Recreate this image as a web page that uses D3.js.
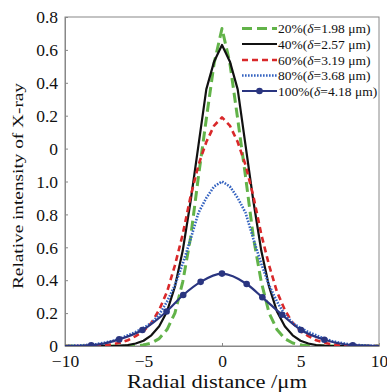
<!DOCTYPE html>
<html><head><meta charset="utf-8">
<script src="https://cdn.jsdelivr.net/npm/d3@7"></script>
<style>body{margin:0;background:#fff}svg{display:block}</style>
</head><body>
<svg id="chart" width="387" height="392"></svg>
<script>
// ---- data ----
const xGrid = [-10,-9,-8.5,-8,-7.5,-7,-6.5,-6,-5.5,-5,-4.5,-4,-3.5,-3,-2.5,-2,-1.5,-1,-0.5,0,0.5,1,1.5,2,2.5,3,3.5,4,4.5,5,5.5,6,6.5,7,7.5,8,8.5,9,10];
const green20 = [0,0,0,0,0,0,0,0,0.002,0.006,0.018,0.045,0.10,0.20,0.39,0.66,1.03,1.38,1.72,1.93,1.72,1.38,1.03,0.66,0.39,0.20,0.10,0.045,0.018,0.006,0.002,0,0,0,0,0,0,0,0];
const black40 = [0,0,0,0,0,0,0.002,0.006,0.015,0.032,0.065,0.12,0.21,0.36,0.58,0.88,1.22,1.56,1.73,1.83,1.73,1.56,1.22,0.88,0.58,0.36,0.21,0.12,0.065,0.032,0.015,0.006,0.002,0,0,0,0,0,0];
const red60 = [0,0,0.001,0.002,0.005,0.01,0.02,0.035,0.06,0.09,0.14,0.22,0.33,0.49,0.68,0.91,1.10,1.24,1.34,1.39,1.34,1.24,1.10,0.91,0.68,0.49,0.33,0.22,0.14,0.09,0.06,0.035,0.02,0.01,0.005,0.002,0.001,0,0];
const blue80 = [0,0.004,0.007,0.012,0.02,0.03,0.045,0.065,0.085,0.11,0.14,0.19,0.27,0.37,0.50,0.65,0.81,0.90,0.97,1.0,0.97,0.90,0.81,0.65,0.50,0.37,0.27,0.19,0.14,0.11,0.085,0.065,0.045,0.03,0.02,0.012,0.007,0.004,0];
const navyX = [-10,-8.33,-6.55,-5.07,-3.53,-2.47,-1.36,0,1.57,2.57,3.82,5.03,6.52,8.33,10];
const navy100 = [0,0.004,0.04,0.097,0.21,0.31,0.39,0.44,0.377,0.296,0.19,0.097,0.038,0.005,0];
const legendLabels = [["20%(","1.98 μm)"],["40%(","2.57 μm)"],["60%(","3.19 μm)"],["80%(","3.68 μm)"],["100%(","4.18 μm)"]];
const xTicks = [-10,-5,0,5,10];
const xTickLabels = ["−10","−5","0","5","10"];
const yTicks = [0,0.2,0.4,0.6,0.8,1.0,1.2,1.4,1.6,1.8,2.0];
const yTickLabels = ["0","0.2","0.4","0.6","0.8","1.0","0","0.2","0.4","0.6","0.8"];

// ---- layout ----
const L = 65, R = 379, T = 17, B = 346;
const svg = d3.select("#chart");
const x = d3.scaleLinear().domain([-10,10]).range([L,R]);
const y = d3.scaleLinear().domain([0,2]).range([B,T]);
const font = "'Liberation Serif','DejaVu Serif',serif";
const axisColor = "#888";

svg.append("defs").append("clipPath").attr("id","clip")
  .append("rect").attr("x",L).attr("y",T).attr("width",R-L).attr("height",B-T);

// frame
svg.append("rect").attr("x",L).attr("y",T).attr("width",R-L).attr("height",B-T)
  .attr("fill","none").attr("stroke",axisColor).attr("stroke-width",1);

// axes
const xAxis = d3.axisBottom(x).tickValues(xTicks).tickSizeInner(-3).tickSizeOuter(0)
  .tickPadding(10).tickFormat((d,i)=>xTickLabels[i]);
const gx = svg.append("g").attr("transform",`translate(0,${B})`).call(xAxis);
const yAxis = d3.axisLeft(y).tickValues(yTicks).tickSizeInner(-3).tickSizeOuter(0)
  .tickPadding(7).tickFormat((d,i)=>yTickLabels[i]);
const gy = svg.append("g").attr("transform",`translate(${L},0)`).call(yAxis);
[gx,gy].forEach(g=>{
  g.select(".domain").attr("stroke",axisColor);
  g.selectAll(".tick line").attr("stroke",axisColor);
  g.selectAll(".tick text").attr("font-family",font).attr("font-size",17.5).attr("fill","#111");
});
gx.selectAll(".tick text").attr("dy","0.64em");
gy.selectAll(".tick text").attr("dy","0.33em");

// titles
svg.append("text").attr("x",217).attr("y",388).attr("text-anchor","middle")
  .attr("font-family",font).attr("font-size",19).attr("fill","#111")
  .attr("textLength",180).attr("lengthAdjust","spacingAndGlyphs").text("Radial distance /μm");
svg.append("text").attr("transform",`translate(23,186) rotate(-90)`).attr("text-anchor","middle")
  .attr("font-family",font).attr("font-size",15.5).attr("fill","#111")
  .attr("textLength",206).attr("lengthAdjust","spacingAndGlyphs").text("Relative intensity of X-ray");

// series
const series = [
  {xs:xGrid, vs:green20, color:"#62b349", width:3, dash:"10,5"},
  {xs:xGrid, vs:black40, color:"#111111", width:2.2, dash:null},
  {xs:xGrid, vs:red60, color:"#d9282a", width:2.6, dash:"6,4"},
  {xs:xGrid, vs:blue80, color:"#3563c0", width:2.6, dash:"1.6,1.4"},
  {xs:navyX, vs:navy100, color:"#2a3580", width:2.2, dash:null, markers:true}
];
const plot = svg.append("g").attr("clip-path","url(#clip)");
series.forEach((s,k)=>{
  const pts = s.xs.map((xv,i)=>[xv,s.vs[i]]);
  const line = d3.line().x(d=>x(d[0])).y(d=>y(d[1]))
    .curve(s.markers ? d3.curveMonotoneX : d3.curveLinear);
  plot.append("path").datum(pts).attr("d",line).attr("fill","none")
    .attr("stroke",s.color).attr("stroke-width",s.width)
    .attr("stroke-dasharray",s.dash).attr("stroke-linejoin","round");
  if(s.markers){
    plot.selectAll(".mk").data(pts.filter(d=>Math.abs(d[0])<10)).enter().append("circle")
      .attr("cx",d=>x(d[0])).attr("cy",d=>y(d[1])).attr("r",3.3).attr("fill",s.color);
  }
});

// legend
const lg = svg.append("g");
const rowY = [28.5,44,60,75.5,91];
series.forEach((s,i)=>{
  const yy = rowY[i];
  lg.append("line").attr("x1",242).attr("x2",277).attr("y1",yy).attr("y2",yy)
    .attr("stroke",s.color).attr("stroke-width",s.width).attr("stroke-dasharray",s.dash);
  if(s.markers) lg.append("circle").attr("cx",259.5).attr("cy",yy).attr("r",3.3).attr("fill",s.color);
  const t = lg.append("text").attr("x",278).attr("y",yy+4.5).attr("font-family",font)
    .attr("font-size",13.5).attr("fill","#111");
  t.append("tspan").text(legendLabels[i][0]);
  t.append("tspan").attr("font-style","italic").text("δ");
  t.append("tspan").text("=" + legendLabels[i][1]);
});
</script>
</body></html>
